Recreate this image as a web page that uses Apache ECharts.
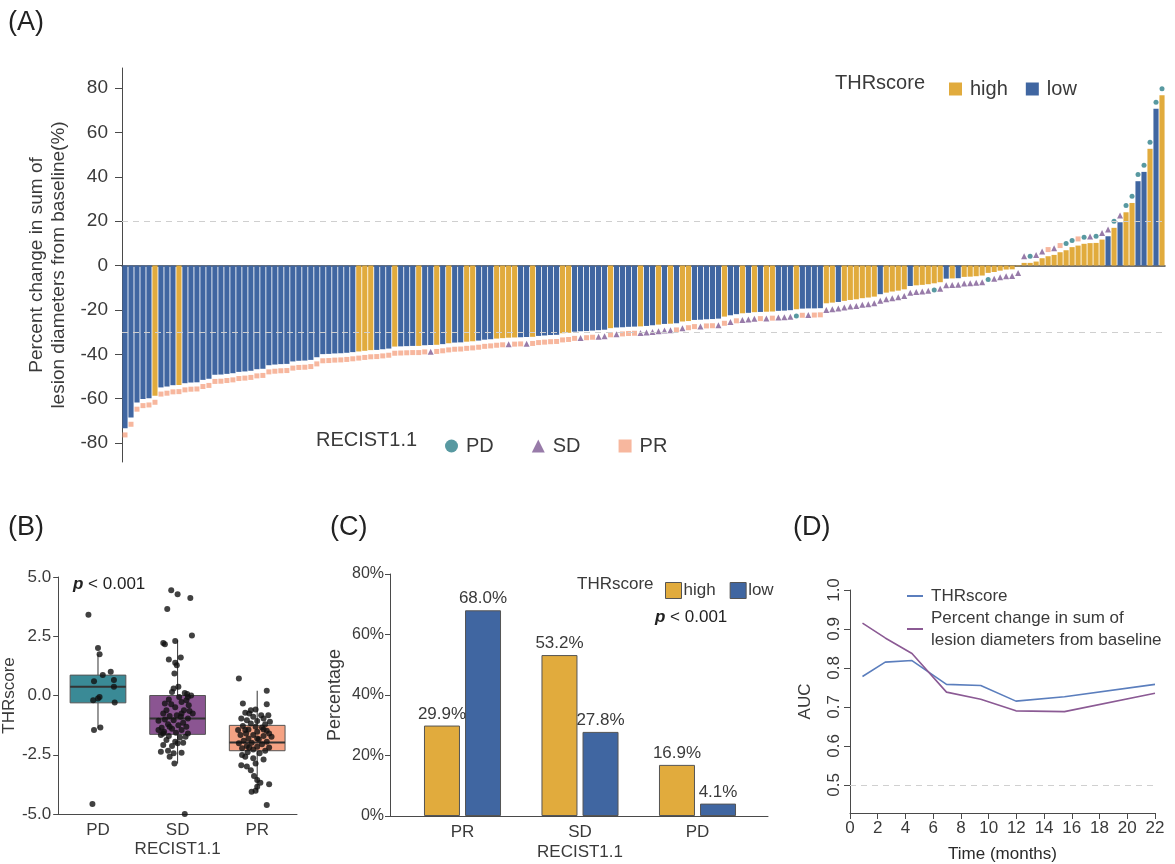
<!DOCTYPE html>
<html><head><meta charset="utf-8">
<script src="https://cdn.jsdelivr.net/npm/echarts@6/dist/echarts.min.js"></script>
<style>html,body{margin:0;padding:0;background:#fff}#c{width:1175px;height:864px}</style>
</head><body><div id="c"></div>
<script>
// ---------- Panel A: waterfall ----------
const waterfallValues = [
 -73.3,-68.5,-61.7,-60.1,-59.8,-58.6,-54.9,-54.5,-53.9,-53.8,
 -53.0,-52.7,-52.6,-51.5,-51.0,-49.2,-49.1,-48.8,-48.5,-47.9,
 -47.7,-47.4,-46.7,-46.5,-44.9,-44.6,-44.4,-44.3,-43.2,-42.9,
 -42.8,-42.5,-41.3,-39.9,-39.8,-39.6,-39.5,-39.3,-39.0,-38.7,
 -38.4,-38.1,-38.0,-37.7,-37.4,-36.5,-36.4,-36.3,-36.2,-36.2,
 -35.9,-35.8,-35.7,-35.4,-35.0,-34.7,-34.6,-34.3,-34.1,-33.8,
 -33.4,-33.2,-32.9,-32.7,-32.5,-32.4,-32.3,-32.2,-32.1,-31.7,
 -31.5,-31.3,-31.2,-30.5,-30.3,-29.8,-29.6,-29.5,-29.3,-29.1,
 -28.9,-28.2,-27.9,-27.8,-27.6,-27.5,-27.4,-27.2,-26.9,-26.6,
 -26.3,-26.2,-26.0,-25.2,-25.0,-24.5,-24.4,-24.2,-24.1,-23.9,
 -23.0,-22.4,-21.9,-21.5,-21.3,-21.0,-20.9,-20.8,-20.7,-20.4,
 -20.3,-20.1,-19.7,-19.4,-19.3,-19.3,-19.2,-17.0,-16.7,-16.4,
 -15.9,-15.5,-15.2,-14.7,-14.4,-14.0,-12.9,-12.2,-11.7,-11.3,
 -10.7,-9.2,-8.9,-8.7,-8.4,-8.0,-7.5,-5.9,-5.8,-5.7,
 -5.1,-5.0,-4.8,-4.5,-3.3,-2.9,-2.3,-1.8,-1.7,-0.3,
 1.2,1.2,1.8,3.3,4.2,4.8,6.0,6.9,8.3,9.0,
 9.8,10.1,10.2,11.7,13.2,17.0,19.5,24.0,28.2,38.0,
 42.2,52.6,70.6,76.7
];
// THRscore group per patient (H = high, L = low)
const thrGroup = [
 'L','L','L','L','L','H','L','L','L','H',
 'L','L','L','L','L','L','L','L','L','L',
 'L','L','L','L','L','L','L','L','L','L',
 'L','L','L','L','L','L','L','L','L','H',
 'H','H','L','L','L','H','L','L','L','H',
 'L','L','H','L','H','L','L','H','H','L',
 'L','L','H','H','H','H','L','L','H','L',
 'L','L','L','H','H','L','L','L','L','L',
 'L','H','L','L','L','L','H','L','L','H',
 'L','H','L','H','H','L','L','L','L','L',
 'H','L','L','H','L','H','L','H','H','L',
 'L','L','H','L','L','L','L','H','H','L',
 'H','H','H','H','H','H','L','H','H','H',
 'H','L','H','H','H','H','H','L','H','L',
 'H','H','H','H','H','H','H','H','H','H',
 'H','H','H','H','H','H','H','H','H','H',
 'H','H','H','H','L','H','L','H','H','L',
 'L','H','L','H'
];
// RECIST1.1 response per patient
const recist = [
 'PR','PR','PR','PR','PR','PR','PR','PR','PR','PR',
 'PR','PR','PR','PR','PR','PR','PR','PR','PR','PR',
 'PR','PR','PR','PR','PR','PR','PR','PR','PR','PR',
 'PR','PR','PR','PR','PR','PR','PR','PR','PR','PR',
 'PR','PR','PR','PR','PR','PR','PR','PR','PR','PR',
 'PR','SD','PR','PR','PR','PR','PR','PR','PR','PR',
 'PR','PR','PR','PR','SD','PR','PR','SD','PR','PR',
 'PR','PR','PR','PR','PR','PR','SD','PR','PR','SD',
 'SD','PR','SD','PR','PR','PR','SD','SD','SD','SD',
 'SD','SD','PR','SD','PR','PR','SD','PR','PR','SD',
 'PR','SD','PR','SD','SD','SD','PR','SD','PR','SD',
 'SD','SD','PD','PR','SD','PR','PR','SD','SD','SD',
 'SD','SD','SD','SD','SD','SD','SD','SD','SD','SD',
 'SD','SD','SD','SD','SD','PD','SD','SD','SD','SD',
 'SD','SD','SD','SD','PD','SD','SD','SD','SD','SD',
 'SD','PD','SD','SD','PR','SD','PR','PD','PD','PR',
 'PD','SD','PD','SD','SD','PD','SD','PD','PD','PD',
 'PD','PD','PD','PD'
];
const waterfallTicks = [-80,-60,-40,-20,0,20,40,60,80];
const waterfallRefLines = [20, -30];

// ---------- Panel B: boxplot ----------
const boxCategories = ['PD','SD','PR'];
// [lower whisker, Q1, median, Q3, upper whisker]
const boxStats = [
 [-1.39,-0.31,0.37,0.86,1.74],
 [-2.87,-1.64,-0.97,0.00,2.33],
 [-4.06,-2.33,-1.98,-1.26,0.20]
];
// jittered points: [horizontal jitter (category units), THRscore]
const pdPoints = [[-0.12,3.41],[0,2.0],[0.02,1.74],[-0.05,0.6],[0.06,0.86],[0.16,1.0],[0.2,0.65],[0.2,0.37],[0.02,-0.06],[-0.06,-0.2],[0,-0.13],[0.21,-0.3],[-0.05,-1.46],[0.03,-1.35],[-0.07,-4.58]];
const sdPoints = [[-0.08,4.44],[0,4.27],[0.16,4.11],[-0.13,3.65],[0.18,2.53],[-0.18,2.22],[-0.16,2.16],[-0.03,2.3],[-0.11,1.52],[0.04,1.6],[-0.03,1.38],[-0.01,1.28],[-0.04,0.93],[-0.05,0.3],[-0.07,0.15],[0.09,0.11],[0.12,0.06],[0.17,0],[0.02,-0.06],[-0.11,-0.17],[0.11,-0.2],[0.05,-0.27],[-0.08,-0.37],[0.14,-0.41],[-0.03,-0.5],[-0.14,-0.62],[0.08,-0.62],[0.15,-0.65],[-0.18,-0.76],[-0.01,-0.83],[-0.1,-0.87],[0.04,-0.9],[0.13,-0.97],[-0.16,-1.01],[-0.05,-1.04],[-0.24,-1.07],[0.07,-1.15],[-0.12,-1.21],[0.01,-1.25],[0.11,-1.32],[-0.2,-1.36],[-0.07,-1.4],[0.05,-1.46],[-0.17,-1.53],[-0.02,-1.57],[0.13,-1.6],[-0.21,-1.67],[-0.11,-1.71],[0.03,-1.77],[-0.14,-1.88],[-0.03,-1.95],[0.07,-1.99],[-0.18,-2.09],[-0.07,-2.13],[0,-2.02],[-0.12,-2.33],[-0.21,-2.37],[-0.05,-2.44],[0.05,-2.42],[-0.1,-2.58],[-0.04,-2.87],[0.09,-5.0],[0.1,-1.74],[-0.24,-1.46],[0.19,-0.76],[-0.16,-0.34],[0.13,-0.06],[0.01,0.37],[-0.1,-1.32],[0.05,-0.76],[-0.18,-1.6]];
const prPoints = [[-0.23,0.72],[0.12,0.2],[-0.18,-0.34],[-0.02,-0.59],[0.12,-0.37],[-0.15,-0.73],[-0.1,-0.76],[0.05,-0.83],[0.14,-0.83],[-0.05,-0.9],[-0.2,-0.97],[0.08,-0.97],[-0.13,-1.04],[0,-1.08],[0.16,-1.11],[-0.08,-1.18],[0.1,-1.21],[-0.18,-1.29],[-0.02,-1.32],[0.06,-1.35],[-0.11,-1.43],[-0.24,-1.46],[0.12,-1.49],[0,-1.53],[-0.14,-1.6],[-0.21,-1.67],[-0.05,-1.67],[0.08,-1.71],[0.18,-1.74],[-0.11,-1.81],[0.02,-1.85],[-0.17,-1.91],[0.12,-1.95],[-0.07,-1.99],[-0.23,-2.02],[0.06,-2.06],[-0.13,-2.13],[0,-2.16],[0.15,-2.19],[-0.19,-2.23],[-0.05,-2.28],[0.1,-2.33],[-0.12,-2.39],[0.03,-2.44],[-0.15,-2.58],[-0.05,-2.65],[0.08,-2.7],[-0.2,-2.94],[-0.13,-3.0],[-0.02,-2.87],[-0.08,-3.15],[-0.04,-3.4],[0,-3.57],[0.04,-3.68],[0.15,-3.74],[0,-3.85],[-0.07,-4.06],[-0.02,-4.02],[0.12,-4.62],[-0.08,-0.62],[0.08,-1.43],[0.15,-1.6],[-0.15,-1.46],[0,-1.81],[-0.1,-2.19],[-0.19,-2.51]];

// ---------- Panel C: grouped bars ----------
const pctCategories = ['PR','SD','PD'];
const pctHigh = [29.9, 53.2, 16.9];
const pctLow = [68.0, 27.8, 4.1];

// ---------- Panel D: time-dependent AUC ----------
const aucTimes = [0.9, 2.54, 4.47, 6.96, 9.43, 11.97, 15.47, 22];
const aucTHR = [0.778, 0.815, 0.819, 0.758, 0.755, 0.715, 0.726, 0.758];
const aucPct = [0.915, 0.877, 0.837, 0.738, 0.72, 0.69, 0.688, 0.735];
const aucTicks = [0.5, 0.6, 0.7, 0.8, 0.9, 1.0];

// ---------- styling ----------
const TXT = '#3a3a3a', AX = '#4a4a4a';
const FONT = '"Liberation Sans", Arial, Helvetica, sans-serif';
const YEL = '#E1AB3D', BLU = '#4066A1';
const C_PD = '#2E8089', C_SD = '#7E5A93', C_PR = '#F5A586';
const BOX_COL = ['#3A8A96', '#8B5592', '#F5A283'];
const markerGap = 3;

const idx = waterfallValues.map((_, i) => i);
const barData = g => waterfallValues.map((v, i) => thrGroup[i] === g ? v : '-');
const markData = r => waterfallValues.map((v, i) => recist[i] === r ? (v < 0 ? v - markerGap : v + markerGap) : '-');
const jitter = (pts, c) => pts.map(p => [c + p[0], p[1]]);

const chart = echarts.init(document.getElementById('c'), null, {renderer: 'canvas'});
const option = {
  animation: false,
  textStyle: {fontFamily: FONT, color: TXT},
  grid: [
    {left: 122, top: 68, width: 1043, height: 394},
    {left: 55, top: 577, width: 242, height: 237},
    {left: 390, top: 574, width: 378, height: 242},
    {left: 403.75, top: 574, width: 352.5, height: 242},
    {left: 850, top: 590, width: 305, height: 225}
  ],
  xAxis: [
    {type: 'category', gridIndex: 0, data: idx, axisLine: {onZero: true, lineStyle: {color: '#444', width: 1.5}},
     axisTick: {show: false}, axisLabel: {show: false}, splitLine: {show: false}},
    {type: 'category', gridIndex: 1, data: boxCategories, name: 'RECIST1.1', nameLocation: 'middle', nameGap: 27,
     nameTextStyle: {fontSize: 17, color: TXT}, axisLine: {onZero: false, lineStyle: {color: AX}},
     axisTick: {alignWithLabel: true, length: 4, lineStyle: {color: AX}}, axisLabel: {fontSize: 17, color: TXT, margin: 8}},
    {type: 'value', gridIndex: 1, min: -0.5, max: 2.5, show: false, axisLine: {onZero: false}},
    {type: 'value', gridIndex: 2, min: 0, max: 1, axisLine: {show: true, onZero: false, lineStyle: {color: AX}},
     axisTick: {show: false}, axisLabel: {show: false}, splitLine: {show: false}},
    {type: 'category', gridIndex: 3, data: pctCategories, name: 'RECIST1.1', nameLocation: 'middle', nameGap: 28,
     nameTextStyle: {fontSize: 17, color: TXT}, axisLine: {show: false}, axisTick: {show: false},
     axisLabel: {fontSize: 17, color: TXT, margin: 8}},
    {type: 'value', gridIndex: 4, min: 0, max: 22, interval: 2, name: 'Time (months)', nameLocation: 'middle', nameGap: 33,
     nameTextStyle: {fontSize: 17, color: '#2a2a2a'}, axisLine: {onZero: false, lineStyle: {color: AX}},
     axisTick: {length: 6, lineStyle: {color: AX}}, axisLabel: {fontSize: 17, color: TXT, margin: 7}, splitLine: {show: false}}
  ],
  yAxis: [
    {type: 'value', gridIndex: 0, min: -88.5, max: 89,
     name: 'Percent change in sum of\nlesion diameters from baseline(%)', nameLocation: 'middle', nameGap: 50,
     nameTextStyle: {fontSize: 19, lineHeight: 22, color: TXT},
     axisLine: {show: true, onZero: false, lineStyle: {color: AX}},
     axisTick: {show: true, length: 7, customValues: waterfallTicks, lineStyle: {color: AX}},
     axisLabel: {fontSize: 19, color: TXT, margin: 14, customValues: waterfallTicks}, splitLine: {show: false}},
    {type: 'value', gridIndex: 1, min: -5, max: 5, interval: 2.5, name: 'THRscore', nameLocation: 'middle', nameGap: 36,
     nameTextStyle: {fontSize: 17, color: TXT}, axisLine: {show: true, onZero: false, lineStyle: {color: AX}},
     axisTick: {length: 5, lineStyle: {color: AX}}, axisLabel: {fontSize: 17, color: TXT, margin: 7, formatter: v => v.toFixed(1)},
     splitLine: {show: false}},
    {type: 'value', gridIndex: 2, min: 0, max: 80, interval: 20, name: 'Percentage', nameLocation: 'middle', nameGap: 46,
     nameTextStyle: {fontSize: 18, color: TXT}, axisLine: {show: true, onZero: false, lineStyle: {color: AX}},
     axisTick: {length: 5, lineStyle: {color: AX}}, axisLabel: {fontSize: 16, color: TXT, margin: 6, formatter: v => v + '%'},
     splitLine: {show: false}},
    {type: 'value', gridIndex: 3, min: 0, max: 80, show: false},
    {type: 'value', gridIndex: 4, min: 0.428, max: 1.0, name: 'AUC', nameLocation: 'middle', nameGap: 36,
     nameTextStyle: {fontSize: 17, color: TXT}, axisLine: {show: true, onZero: false, lineStyle: {color: AX}},
     axisTick: {length: 6, customValues: aucTicks, lineStyle: {color: AX}},
     axisLabel: {fontSize: 17, color: TXT, margin: 7, rotate: 90, customValues: aucTicks, formatter: v => v.toFixed(1)},
     splitLine: {show: false}}
  ],
  legend: [
    {data: ['high', 'low'], left: 944, top: 74, itemWidth: 13, itemHeight: 13, itemGap: 18, icon: 'rect',
     textStyle: {fontSize: 20, color: TXT, padding: [0, 0, 0, 3]}},
    {data: ['PD', 'SD', 'PR'], left: 440, top: 431, itemWidth: 13, itemHeight: 13, itemGap: 38,
     textStyle: {fontSize: 20, color: TXT, padding: [0, 0, 0, 3]}},
    {data: ['high', 'low'], left: 660, top: 577, itemWidth: 16, itemHeight: 16, itemGap: 14, icon: 'rect',
     itemStyle: {borderColor: '#555', borderWidth: 1},
     textStyle: {fontSize: 17, color: TXT, padding: [0, 0, 0, -3]}},
    {data: ['THRscore', 'Percent change in sum of\nlesion diameters from baseline'], orient: 'vertical',
     left: 902, top: 580, itemWidth: 16, itemHeight: 2, itemGap: 0, icon: 'rect',
     textStyle: {fontSize: 17, lineHeight: 22, color: TXT, padding: [0, 0, 0, 3]}}
  ],
  graphic: [
    {type: 'text', left: 8, top: 9, style: {text: '(A)', fontSize: 27, fill: '#222', font: '27px ' + FONT}},
    {type: 'text', left: 8, top: 514, style: {text: '(B)', fontSize: 27, fill: '#222', font: '27px ' + FONT}},
    {type: 'text', left: 330, top: 514, style: {text: '(C)', fontSize: 27, fill: '#222', font: '27px ' + FONT}},
    {type: 'text', left: 793, top: 514, style: {text: '(D)', fontSize: 27, fill: '#222', font: '27px ' + FONT}},
    {type: 'text', left: 835, top: 73, style: {text: 'THRscore', font: '20px ' + FONT, fill: TXT}},
    {type: 'text', left: 316, top: 430, style: {text: 'RECIST1.1', font: '20px ' + FONT, fill: TXT}},
    {type: 'text', left: 577, top: 576, style: {text: 'THRscore', font: '17px ' + FONT, fill: TXT}},
    {type: 'text', left: 73, top: 576, style: {text: '{p|p} < 0.001', font: '17px ' + FONT, fill: '#222',
      rich: {p: {fontStyle: 'italic', fontWeight: 'bold', fontSize: 17, fontFamily: FONT, fill: '#222'}}}},
    {type: 'text', left: 655, top: 609, style: {text: '{p|p} < 0.001', font: '17px ' + FONT, fill: '#222',
      rich: {p: {fontStyle: 'italic', fontWeight: 'bold', fontSize: 17, fontFamily: FONT, fill: '#222'}}}}
  ],
  series: [
    {name: 'high', type: 'bar', xAxisIndex: 0, yAxisIndex: 0, data: barData('H'), barGap: '-100%', barCategoryGap: '14%',
     itemStyle: {color: YEL},
     markLine: {silent: true, symbol: 'none', label: {show: false},
       lineStyle: {type: [6, 5], color: '#cfcfcf', width: 1}, data: waterfallRefLines.map(v => ({yAxis: v}))}},
    {name: 'low', type: 'bar', xAxisIndex: 0, yAxisIndex: 0, data: barData('L'), barGap: '-100%', barCategoryGap: '14%',
     itemStyle: {color: BLU}},
    {name: 'PD', type: 'scatter', xAxisIndex: 0, yAxisIndex: 0, data: markData('PD'), symbol: 'circle', symbolSize: 5,
     itemStyle: {color: C_PD}},
    {name: 'SD', type: 'scatter', xAxisIndex: 0, yAxisIndex: 0, data: markData('SD'), symbol: 'triangle', symbolSize: 6,
     itemStyle: {color: C_SD}},
    {name: 'PR', type: 'scatter', xAxisIndex: 0, yAxisIndex: 0, data: markData('PR'), symbol: 'rect', symbolSize: 5,
     itemStyle: {color: C_PR}},

    {type: 'custom', xAxisIndex: 1, yAxisIndex: 1, data: boxStats.map((s, i) => [i].concat(s)),
     encode: {x: 0, y: [1, 2, 3, 4, 5]},
     renderItem: (params, api) => {
       const i = api.value(0);
       const pLo = api.coord([i, api.value(1)]), pQ1 = api.coord([i, api.value(2)]);
       const pMed = api.coord([i, api.value(3)]), pQ3 = api.coord([i, api.value(4)]), pHi = api.coord([i, api.value(5)]);
       const w = api.size([1, 0])[0] * 0.7;
       const x = pMed[0];
       const ls = {stroke: '#333', lineWidth: 1};
       return {type: 'group', children: [
         {type: 'line', shape: {x1: x, y1: pHi[1], x2: x, y2: pQ3[1]}, style: ls},
         {type: 'line', shape: {x1: x, y1: pQ1[1], x2: x, y2: pLo[1]}, style: ls},
         {type: 'rect', shape: {x: x - w / 2, y: pQ3[1], width: w, height: pQ1[1] - pQ3[1]},
          style: {fill: BOX_COL[i], stroke: '#555', lineWidth: 1}},
         {type: 'line', shape: {x1: x - w / 2, y1: pMed[1], x2: x + w / 2, y2: pMed[1]}, style: {stroke: '#333', lineWidth: 2}}
       ]};
     }},
    {type: 'scatter', xAxisIndex: 2, yAxisIndex: 1, symbolSize: 6, itemStyle: {color: '#111'}, z: 5,
     data: jitter(pdPoints, 0).concat(jitter(sdPoints, 1), jitter(prPoints, 2))},

    {name: 'high', type: 'bar', xAxisIndex: 4, yAxisIndex: 3, data: pctHigh, barWidth: 36, barGap: '14%',
     itemStyle: {color: YEL, borderColor: '#555', borderWidth: 1},
     label: {show: true, position: 'top', distance: 3, fontSize: 17, color: TXT, formatter: p => p.value.toFixed(1) + '%'}},
    {name: 'low', type: 'bar', xAxisIndex: 4, yAxisIndex: 3, data: pctLow, barWidth: 36, barGap: '14%',
     itemStyle: {color: BLU, borderColor: '#555', borderWidth: 1},
     label: {show: true, position: 'top', distance: 3, fontSize: 17, color: TXT, formatter: p => p.value.toFixed(1) + '%'}},

    {name: 'THRscore', type: 'line', xAxisIndex: 5, yAxisIndex: 4, data: aucTimes.map((t, i) => [t, aucTHR[i]]),
     symbol: 'none', lineStyle: {color: '#5B7EBD', width: 1.6}, itemStyle: {color: '#5B7EBD'},
     markLine: {silent: true, symbol: 'none', label: {show: false}, lineStyle: {type: [6, 5], color: '#d0d0d0', width: 1},
       data: [{yAxis: 0.5}]}},
    {name: 'Percent change in sum of\nlesion diameters from baseline', type: 'line', xAxisIndex: 5, yAxisIndex: 4,
     data: aucTimes.map((t, i) => [t, aucPct[i]]), symbol: 'none',
     lineStyle: {color: '#8B5A94', width: 1.6}, itemStyle: {color: '#8B5A94'}}
  ]
};
chart.setOption(option);
</script>
</body></html>
